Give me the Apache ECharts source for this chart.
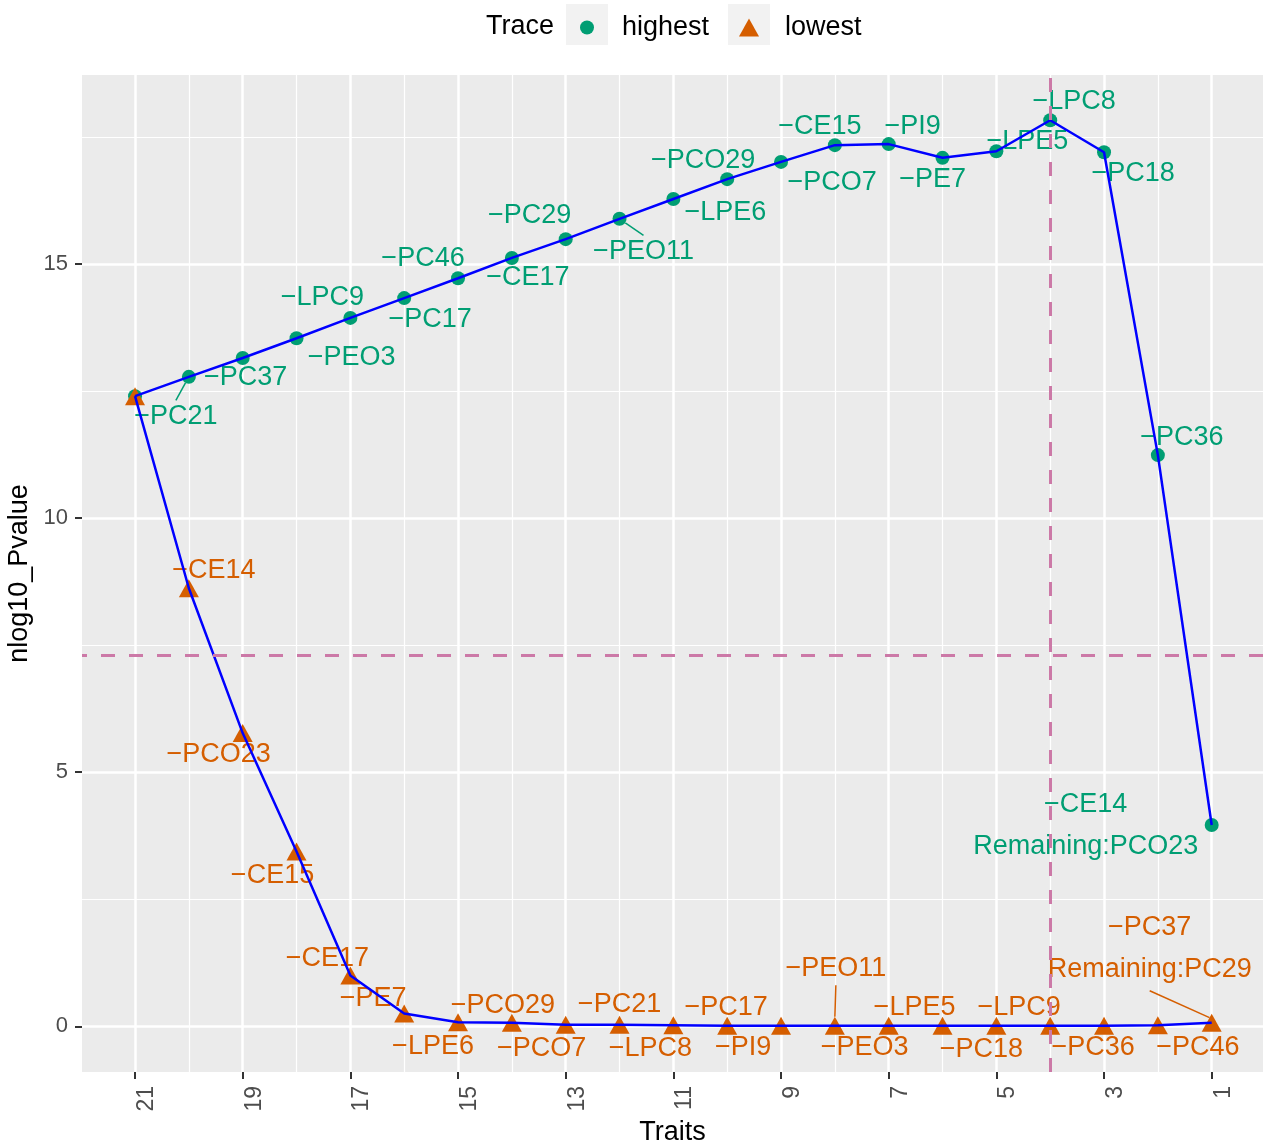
<!DOCTYPE html>
<html>
<head>
<meta charset="utf-8">
<script src="https://cdn.jsdelivr.net/npm/echarts@6/dist/echarts.min.js"></script>
<style>
html, body { margin: 0; padding: 0; background: #fff; }
#main { width: 1263px; height: 1146px; }
</style>
</head>
<body>
<div id="main"></div>
<script>
// number of traits kept at each step (x axis, drawn reversed)
var traits = [21, 20, 19, 18, 17, 16, 15, 14, 13, 12, 11, 10, 9, 8, 7, 6, 5, 4, 3, 2, 1];

// -log10 p value for each trace
var highest = [12.40, 12.78, 13.15, 13.54, 13.94, 14.33, 14.72, 15.12, 15.49, 15.89, 16.28,
               16.67, 17.01, 17.34, 17.36, 17.09, 17.22, 17.83, 17.20, 11.24, 3.96];
var lowest = [12.40, 8.62, 5.77, 3.44, 1.00, 0.25, 0.08, 0.07, 0.03, 0.03, 0.02,
              0.01, 0.01, 0.01, 0.01, 0.01, 0.01, 0.01, 0.01, 0.02, 0.07];

// trait removed at each step
var highestNames = ['', '\u2212PC21', '\u2212PC37', '\u2212PEO3', '\u2212LPC9', '\u2212PC17', '\u2212PC46',
  '\u2212CE17', '\u2212PC29', '\u2212PEO11', '\u2212LPE6', '\u2212PCO29', '\u2212PCO7', '\u2212CE15', '\u2212PI9',
  '\u2212PE7', '\u2212LPE5', '\u2212LPC8', '\u2212PC18', '\u2212PC36', '\u2212CE14\nRemaining:PCO23'];
var lowestNames = ['', '\u2212CE14', '\u2212PCO23', '\u2212CE15', '\u2212CE17', '\u2212PE7', '\u2212LPE6',
  '\u2212PCO29', '\u2212PCO7', '\u2212PC21', '\u2212LPC8', '\u2212PC17', '\u2212PI9', '\u2212PEO11', '\u2212PEO3',
  '\u2212LPE5', '\u2212PC18', '\u2212LPC9', '\u2212PC36', '\u2212PC46', '\u2212PC37\nRemaining:PC29'];

var xMajor = [1, 3, 5, 7, 9, 11, 13, 15, 17, 19, 21];
var xMinor = [2, 4, 6, 8, 10, 12, 14, 16, 18, 20];
var yMajor = [0, 5, 10, 15];
var yMinor = [2.5, 7.5, 12.5, 17.5];
var threshold = 7.30103;   // -log10(5e-8)
var cutTrait = 4;

// label placement (pixel shift from the point, as repelled in the original)
var hiOffsets = [[0, 0], [-13, 40], [3, 20], [55, 19], [-28, -20], [26, 21], [-35, -20], [16, 20],
  [-36, -24], [24, 33], [52, 14], [-24, -19], [51, 21], [-15, -19], [24, -18], [-10, 22], [31, -10],
  [24, -19], [29, 21], [24, -18], [-126, 1]];
var loOffsets = [[0, 0], [25, -18], [-24, 21], [-24, 24], [-23, -17], [-31, -15], [-25, 24], [-9, -17],
  [-24, 24], [0, -20], [-23, 23], [-1, -18], [-38, 22], [1, -57], [-24, 22], [-28, -18], [-15, 24],
  [-31, -18], [-11, 22], [40, 22], [-62, -74]];
var hiSegments = [20, 12];
var loSegments = [8, 1];

var GREEN = '#009E73', ORANGE = '#D55E00', FONT = 'Liberation Sans';

function buildPoints(values, names, segs) {
  return traits.map(function (t, i) {
    var item = { name: names[i], value: [t, values[i]] };
    if (segs.indexOf(t) >= 0) item.labelLine = { show: true };
    if (names[i].indexOf('\n') >= 0) item.label = { lineHeight: 42 };
    if (!names[i]) item.label = { show: false };
    return item;
  });
}
function pairs(values) {
  return traits.map(function (t, i) { return [t, values[i]]; });
}

var myChart = echarts.init(document.getElementById('main'));

var xBase = {
  type: 'value', inverse: true, min: 0.047, max: 21.985,
  axisLine: { show: false, onZero: false }
};
var yBase = {
  type: 'value', min: -0.9, max: 18.72,
  axisLine: { show: false, onZero: false }
};

var option = {
  animation: false,
  textStyle: { fontFamily: FONT },
  title: {
    text: 'Trace', left: 481, top: 8,
    textStyle: { fontFamily: FONT, fontSize: 27, fontWeight: 'normal', color: '#000' }
  },
  graphic: [
    { type: 'rect', left: 566, top: 4, z: -1, shape: { width: 42, height: 41 }, style: { fill: '#F2F2F2' } },
    { type: 'rect', left: 728, top: 4, z: -1, shape: { width: 42, height: 41 }, style: { fill: '#F2F2F2' } }
  ],
  legend: [
    {
      data: ['highest'], left: 575, top: 9, itemWidth: 14, itemHeight: 14,
      textStyle: { fontFamily: FONT, fontSize: 27, color: '#000', padding: [0, 0, 0, 23] }
    },
    {
      data: ['lowest'], left: 734, top: 9, itemWidth: 20, itemHeight: 18,
      textStyle: { fontFamily: FONT, fontSize: 27, color: '#000', padding: [0, 0, 0, 21] }
    }
  ],
  grid: {
    left: 82, right: 0, top: 75, bottom: 74,
    containLabel: false, outerBoundsMode: 'none',
    show: true, backgroundColor: '#EBEBEB', borderWidth: 0
  },
  xAxis: [
    Object.assign({}, xBase, {
      position: 'bottom',
      name: 'Traits', nameLocation: 'middle', nameGap: 46,
      nameTextStyle: { fontFamily: FONT, fontSize: 27, color: '#000' },
      axisTick: { show: true, length: 7, customValues: xMajor, lineStyle: { color: '#333', width: 2 } },
      axisLabel: {
        customValues: xMajor, rotate: 90, margin: 14, verticalAlign: 'top',
        fontFamily: FONT, fontSize: 23, color: '#4D4D4D'
      },
      splitLine: { show: true, lineStyle: { color: '#FFFFFF', width: 2.5 } }
    }),
    Object.assign({}, xBase, {
      position: 'top',
      axisTick: { show: false, customValues: xMinor },
      axisLabel: { show: false, customValues: xMinor },
      splitLine: { show: true, lineStyle: { color: '#FFFFFF', width: 1.2 } }
    })
  ],
  yAxis: [
    Object.assign({}, yBase, {
      position: 'left',
      name: 'nlog10_Pvalue', nameLocation: 'middle', nameGap: 46,
      nameTextStyle: { fontFamily: FONT, fontSize: 27, color: '#000' },
      axisTick: { show: true, length: 7, customValues: yMajor, lineStyle: { color: '#333', width: 2 } },
      axisLabel: { customValues: yMajor, margin: 14, fontFamily: FONT, fontSize: 22, color: '#4D4D4D' },
      splitLine: { show: true, lineStyle: { color: '#FFFFFF', width: 2.5 } }
    }),
    Object.assign({}, yBase, {
      position: 'right',
      axisTick: { show: false, customValues: yMinor },
      axisLabel: { show: false, customValues: yMinor },
      splitLine: { show: true, lineStyle: { color: '#FFFFFF', width: 1.2 } }
    })
  ],
  series: [
    {
      name: 'highest', type: 'scatter', z: 2,
      symbol: 'circle', symbolSize: 14,
      itemStyle: { color: GREEN, opacity: 1 },
      data: buildPoints(highest, highestNames, hiSegments),
      label: {
        show: true, position: 'inside', formatter: '{b}',
        color: GREEN, fontFamily: FONT, fontSize: 27, lineHeight: 33
      },
      labelLine: { show: false, length2: 0, lineStyle: { color: GREEN, width: 1.5 } },
      labelLayout: function (p) {
        var o = hiOffsets[p.dataIndex];
        return { dx: o[0], dy: o[1] };
      }
    },
    {
      name: 'lowest', type: 'scatter', z: 2,
      symbol: 'triangle', symbolSize: [20, 18],
      itemStyle: { color: ORANGE, opacity: 1 },
      data: buildPoints(lowest, lowestNames, loSegments),
      label: {
        show: true, position: 'inside', formatter: '{b}',
        color: ORANGE, fontFamily: FONT, fontSize: 27, lineHeight: 33
      },
      labelLine: { show: false, length2: 0, lineStyle: { color: ORANGE, width: 1.5 } },
      labelLayout: function (p) {
        var o = loOffsets[p.dataIndex];
        return { dx: o[0], dy: o[1] };
      }
    },
    {
      type: 'line', z: 3, silent: true,
      data: pairs(highest),
      symbol: 'none',
      lineStyle: { color: '#0000FF', width: 2.5 },
      markLine: {
        silent: true, symbol: ['none', 'none'],
        label: { show: false },
        lineStyle: { color: '#CC79A7', type: [14, 14], width: 3 },
        data: [{ yAxis: threshold }, { xAxis: cutTrait }]
      }
    },
    {
      type: 'line', z: 3, silent: true,
      data: pairs(lowest),
      symbol: 'none',
      lineStyle: { color: '#0000FF', width: 2.5 }
    }
  ]
};

myChart.setOption(option);
</script>
</body>
</html>
